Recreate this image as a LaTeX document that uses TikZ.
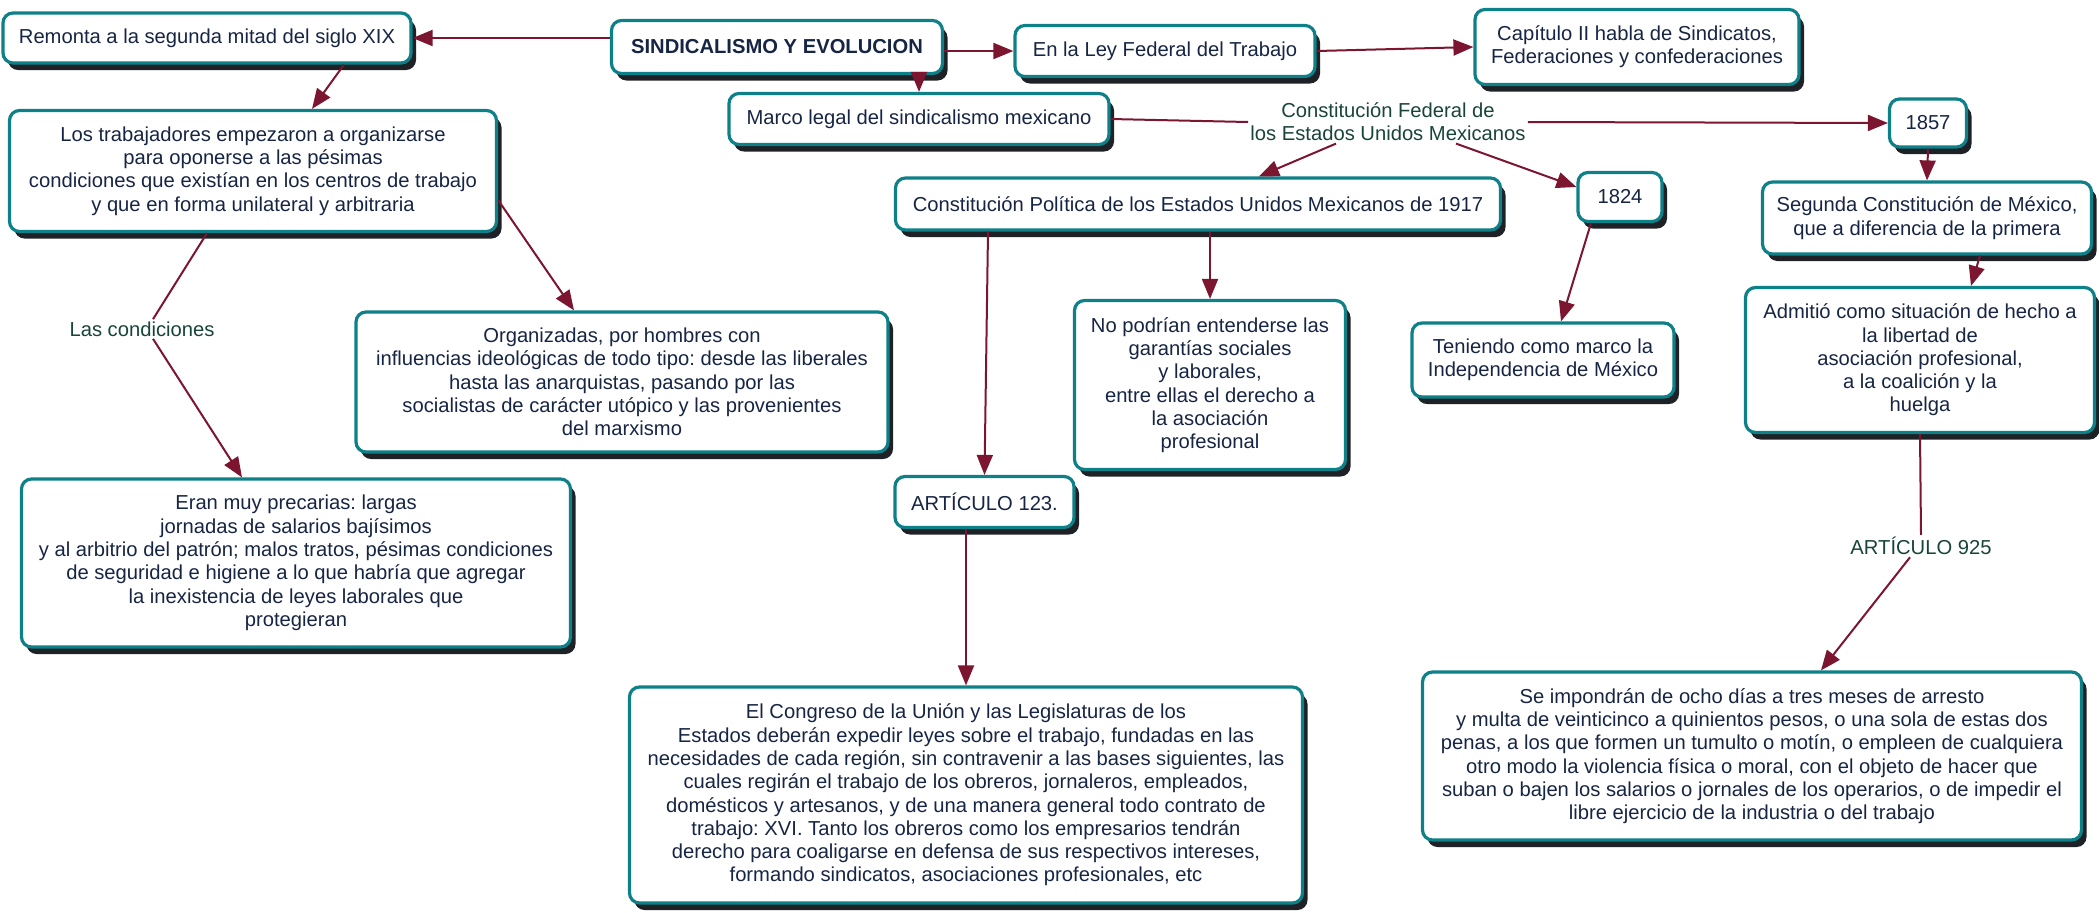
\documentclass[tikz,border=0pt]{standalone}
\usepackage{fontspec}
\setmainfont{Liberation Sans}
\usepackage{tikz}
\usetikzlibrary{arrows.meta,%
                shadows,%
                calc}
\definecolor{boxline}{HTML}{0E8088}
\definecolor{boxshadow}{HTML}{1E2226}
\definecolor{boxtext}{HTML}{172544}
\definecolor{labeltext}{HTML}{18443A}
\definecolor{edgered}{HTML}{7B1530}
\frenchspacing

\begin{document}
\begin{tikzpicture}[x=0.5pt,y=-0.5pt]
  \tikzstyle{BoxStyle}=[draw=boxline,line width=1.6pt,rounded corners=5pt,fill=white,
    drop shadow={shadow xshift=2.5pt,shadow yshift=-3.5pt,fill=boxshadow,opacity=1},
    text=boxtext,align=center,inner sep=0pt,font=\fontsize{10.1}{11.65}\selectfont]
  \tikzstyle{LabelStyle}=[text=labeltext,align=center,inner sep=1pt,
    font=\fontsize{10.1}{11.65}\selectfont]
  \tikzstyle{EdgeStyle}=[draw=edgered,line width=1pt,-{Triangle[length=10pt,width=8pt]}]
  \tikzstyle{LinkStyle}=[draw=edgered,line width=1pt]
  \useasboundingbox (0,0) rectangle (2099,912);
  % top row
  \node[BoxStyle,minimum width=204pt,minimum height=25pt] (remonta) at (207,38)
    {Remonta a la segunda mitad del siglo XIX};
  \node[BoxStyle,minimum width=165.5pt,minimum height=26.5pt] (sindicalismo) at (777,47)
    {\textbf{SINDICALISMO Y EVOLUCION}};
  \node[BoxStyle,minimum width=150pt,minimum height=25.5pt] (ley) at (1165,51)
    {En la Ley Federal del Trabajo};
  \node[BoxStyle,minimum width=162pt,minimum height=37.5pt] (capitulo) at (1637,47)
    {Capítulo II habla de Sindicatos,\\ Federaciones y confederaciones};
  \node[BoxStyle,minimum width=190pt,minimum height=25.5pt] (marco) at (919,119)
    {Marco legal del sindicalismo mexicano};
  \node[LabelStyle] (constfed) at (1388,122)
    {Constitución Federal de\\ los Estados Unidos Mexicanos};
  \node[BoxStyle,minimum width=38.5pt,minimum height=24pt] (anio1857) at (1928,123) {1857};
  \node[BoxStyle,minimum width=243.5pt,minimum height=60.5pt] (trabajadores) at (253,171)
    {Los trabajadores empezaron a organizarse\\ para oponerse a las pésimas\\
     condiciones que existían en los centros de trabajo\\ y que en forma unilateral y arbitraria};
  \node[BoxStyle,minimum width=302.5pt,minimum height=26pt] (const1917) at (1198,204)
    {Constitución Política de los Estados Unidos Mexicanos de 1917};
  \node[BoxStyle,minimum width=42pt,minimum height=24.5pt] (anio1824) at (1620,197) {1824};
  \node[BoxStyle,minimum width=164.5pt,minimum height=36pt] (segunda) at (1927,218)
    {Segunda Constitución de México,\\ que a diferencia de la primera};
  % middle row
  \node[LabelStyle] (condiciones) at (142,329) {Las condiciones};
  \node[BoxStyle,minimum width=266pt,minimum height=70pt] (organizadas) at (622,382)
    {Organizadas, por hombres con\\ influencias ideológicas de todo tipo: desde las liberales\\
     hasta las anarquistas, pasando por las\\ socialistas de carácter utópico y las provenientes\\
     del marxismo};
  \node[BoxStyle,minimum width=135.5pt,minimum height=84.5pt] (nopodrian) at (1210,385)
    {No podrían entenderse las\\ garantías sociales\\ y laborales,\\ entre ellas el derecho a\\
     la asociación\\ profesional};
  \node[BoxStyle,minimum width=131pt,minimum height=37pt] (teniendo) at (1543,360)
    {Teniendo como marco la\\ Independencia de México};
  \node[BoxStyle,minimum width=174.5pt,minimum height=72.5pt] (admitio) at (1920,360)
    {Admitió como situación de hecho a\\ la libertad de\\ asociación profesional,\\
     a la coalición y la\\ huelga};
  \node[BoxStyle,minimum width=89.5pt,minimum height=25.5pt] (art123) at (984.5,502)
    {ARTÍCULO 123.};
  \node[BoxStyle,minimum width=274.5pt,minimum height=84pt] (precarias) at (296,563)
    {Eran muy precarias: largas\\ jornadas de salarios bajísimos\\
     y al arbitrio del patrón; malos tratos, pésimas condiciones\\
     de seguridad e higiene a lo que habría que agregar\\
     la inexistencia de leyes laborales que\\ protegieran};
  \node[LabelStyle] (art925) at (1921,546) {ARTÍCULO 925};
  % bottom row
  \node[BoxStyle,minimum width=336.5pt,minimum height=108pt] (congreso) at (966,795)
    {El Congreso de la Unión y las Legislaturas de los\\
     Estados deberán expedir leyes sobre el trabajo, fundadas en las\\
     necesidades de cada región, sin contravenir a las bases siguientes, las\\
     cuales regirán el trabajo de los obreros, jornaleros, empleados,\\
     domésticos y artesanos, y de una manera general todo contrato de\\
     trabajo: XVI. Tanto los obreros como los empresarios tendrán\\
     derecho para coaligarse en defensa de sus respectivos intereses,\\
     formando sindicatos, asociaciones profesionales, etc};
  \node[BoxStyle,minimum width=329.5pt,minimum height=84pt] (impondran) at (1752,756)
    {Se impondrán de ocho días a tres meses de arresto\\
     y multa de veinticinco a quinientos pesos, o una sola de estas dos\\
     penas, a los que formen un tumulto o motín, o empleen de cualquiera\\
     otro modo la violencia física o moral, con el objeto de hacer que\\
     suban o bajen los salarios o jornales de los operarios, o de impedir el\\
     libre ejercicio de la industria o del trabajo};
  % connectors
  \draw[EdgeStyle] (sindicalismo.west |- remonta.east) -- (remonta.east);
  \draw[EdgeStyle] (sindicalismo.east |- ley.west) -- (ley.west);
  \draw[EdgeStyle] (marco.north |- sindicalismo.south) -- (marco.north);
  \draw[EdgeStyle] (ley.east) -- (capitulo.west);
  \draw[LinkStyle] (marco.east) -- (constfed.west);
  \draw[EdgeStyle] (constfed.east) -- (anio1857.west);
  \draw[EdgeStyle] ([xshift=-26pt]constfed.south) -- ([xshift=30.5pt]const1917.north);
  \draw[EdgeStyle] ([xshift=34pt]constfed.south) -- ([yshift=5pt]anio1824.west);
  \draw[EdgeStyle] (anio1857.south) -- (segunda.north);
  \draw[EdgeStyle] ([xshift=68.5pt]remonta.south) -- ([xshift=29.5pt]trabajadores.north);
  \draw[LinkStyle] ([xshift=-23pt]trabajadores.south) -- ([xshift=5.5pt]condiciones.north);
  \draw[EdgeStyle] ([xshift=5.5pt]condiciones.south) -- ([xshift=-27pt]precarias.north);
  \draw[EdgeStyle] ([yshift=-14.5pt]trabajadores.east) -- ([xshift=-24pt]organizadas.north);
  \draw[EdgeStyle] ([xshift=-105pt]const1917.south) -- (art123.north);
  \draw[EdgeStyle] (nopodrian.north |- const1917.south) -- (nopodrian.north);
  \draw[EdgeStyle] ([xshift=-14.5pt]anio1824.south) -- ([xshift=9pt]teniendo.north);
  \draw[EdgeStyle] ([xshift=26.5pt]segunda.south) -- ([xshift=25.5pt]admitio.north);
  \draw[EdgeStyle] (congreso.north |- art123.south) -- (congreso.north);
  \draw[LinkStyle] (admitio.south) -- (art925.north);
  \draw[EdgeStyle] ([xshift=-5.5pt]art925.south) -- ([xshift=34.5pt]impondran.north);
\end{tikzpicture}
\end{document}
